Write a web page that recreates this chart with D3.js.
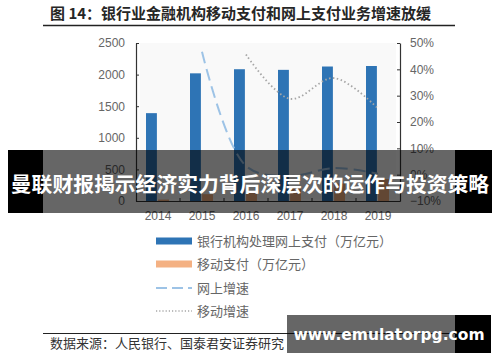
<!DOCTYPE html>
<html>
<head>
<meta http-equiv="Content-Type" content="text/html; charset=utf-8">
<script src="https://cdnjs.cloudflare.com/ajax/libs/d3/7.8.5/d3.min.js"></script>
<style>
  body { margin: 0; background: #fff; }
  svg text { font-family: "Noto Sans CJK SC", "Liberation Sans", sans-serif; }
</style>
</head>
<body>
<div class="chart"></div>
<script type="text/javascript">

    // ------------------------------------------- DATA
    var years = ["2014", "2015", "2016", "2017", "2018", "2019"];
    var onlinePay = [1390, 2020, 2085, 2075, 2128, 2136];     // 万亿元
    var mobilePay = [23, 108, 158, 203, 277, 347];            // 万亿元
    var onlineGrowth = [null, 0.467, 0.033, -0.005, 0.025, 0.004];
    var mobileGrowth = [null, null, 0.456, 0.288, 0.367, 0.251];
    var leftTicks = [0, 500, 1000, 1500, 2000, 2500];
    var rightTicks = [-0.1, 0, 0.1, 0.2, 0.3, 0.4, 0.5];

    var seriesNames = ["银行机构处理网上支付（万亿元）", "移动支付（万亿元）", "网上增速", "移动增速"];
    var colors = ["#2e74b5", "#f4b183", "#9dc3e6", "#a6a6a6"];

    // ------------------------------------------- SVG
    var width = 500, height = 362;
    var svg = d3.select("div.chart").append("svg")
        .attr("width", width)
        .attr("height", height);

    // title
    svg.append("text")
        .attr("x", 50).attr("y", 19)
        .style("font-size", "15px").style("font-weight", "bold")
        .attr("fill", "#262626")
        .text("图 14：银行业金融机构移动支付和网上支付业务增速放缓");
    svg.append("line")
        .attr("x1", 43).attr("x2", 455).attr("y1", 25.5).attr("y2", 25.5)
        .attr("stroke", "#222").attr("stroke-width", 1.5);

    // ------------------------------------------- SCALES
    var plotL = 136, plotR = 400, plotT = 43, plotB = 201;

    var x = d3.scaleBand().domain(years).range([plotL, plotR]);
    var c = x.bandwidth() / 2;
    var x1 = d3.scaleBand().domain(["online", "mobile"])
        .range([c - 12, c + 11]).paddingInner(0.1);
    var yL = d3.scaleLinear().domain([0, 2500]).range([plotB, plotT]);
    var yR = d3.scaleLinear().domain([-0.1, 0.5]).range([plotB, plotT]);

    // plot background
    svg.append("rect")
        .attr("x", plotL + 4).attr("y", plotT).attr("width", plotR - plotL - 8).attr("height", plotB - plotT - 2)
        .attr("fill", "#f9f9f9");

    var plot = svg.append("g");

    // bars
    plot.selectAll("rect.online")
        .data(onlinePay)
        .enter().append("rect")
        .attr("class", "online")
        .attr("x", function(d, i){ return x(years[i]) + x1("online"); })
        .attr("width", x1.bandwidth())
        .attr("y", function(d){ return yL(d); })
        .attr("height", function(d){ return yL(0) - yL(d); })
        .attr("fill", colors[0]);

    plot.selectAll("rect.mobile")
        .data(mobilePay)
        .enter().append("rect")
        .attr("class", "mobile")
        .attr("x", function(d, i){ return x(years[i]) + x1("mobile"); })
        .attr("width", x1.bandwidth())
        .attr("y", function(d){ return yL(d); })
        .attr("height", function(d){ return yL(0) - yL(d); })
        .attr("fill", colors[1]);

    // lines
    var line = d3.line()
        .x(function(d){ return x(d.year) + c; })
        .y(function(d){ return yR(d.v); })
        .curve(d3.curveCatmullRom.alpha(0.5));

    function pts(arr){
        return arr.map(function(v, i){ return {year: years[i], v: v}; })
                  .filter(function(d){ return d.v !== null; });
    }

    plot.append("path")
        .datum(pts(onlineGrowth))
        .attr("d", line)
        .attr("fill", "none")
        .attr("stroke", colors[2])
        .attr("stroke-width", 2)
        .attr("stroke-dasharray", "12,6");

    plot.append("path")
        .datum(pts(mobileGrowth))
        .attr("d", line)
        .attr("fill", "none")
        .attr("stroke", colors[3])
        .attr("stroke-width", 1.8)
        .attr("stroke-dasharray", "1.5,2.5");

    // ------------------------------------------- AXES
    var axisL = svg.append("g")
        .attr("transform", "translate(" + plotL + ",0)")
        .call(d3.axisLeft(yL).tickValues(leftTicks).tickSizeInner(-3).tickSizeOuter(0).tickPadding(11)
              .tickFormat(d3.format("d")));
    var axisR = svg.append("g")
        .attr("transform", "translate(" + plotR + ",0)")
        .call(d3.axisRight(yR).tickValues(rightTicks).tickSizeInner(-3).tickSizeOuter(0).tickPadding(10)
              .tickFormat(d3.format(".0%")));
    var axisB = svg.append("g")
        .attr("transform", "translate(0," + plotB + ")")
        .call(d3.axisBottom(x).tickSize(0).tickPadding(10));

    // inward ticks on band boundaries
    svg.append("g").selectAll("line")
        .data(years.slice(1))
        .enter().append("line")
        .attr("x1", function(d){ return x(d); })
        .attr("x2", function(d){ return x(d); })
        .attr("y1", plotB).attr("y2", plotB - 3)
        .attr("stroke", "#333");

    [axisL, axisR, axisB].forEach(function(a){
        a.select(".domain").attr("stroke", "#333").attr("stroke-width", 1.2);
        a.selectAll(".tick line").attr("stroke", "#333");
        a.selectAll("text")
            .style("font-family", "Liberation Sans, sans-serif")
            .style("font-size", "12px")
            .attr("fill", "#666");
    });

    // ------------------------------------------- LEGEND
    var legend = svg.append("g");
    var ly = [241, 264, 288, 311];
    seriesNames.forEach(function(name, i){
        if (i < 2) {
            legend.append("rect")
                .attr("x", 156).attr("y", ly[i] - 3.5).attr("width", 36).attr("height", 7)
                .attr("fill", colors[i]);
        } else {
            legend.append("line")
                .attr("x1", 156).attr("x2", 192).attr("y1", ly[i]).attr("y2", ly[i])
                .attr("stroke", colors[i])
                .attr("stroke-width", i == 2 ? 1.8 : 1.3)
                .attr("stroke-dasharray", i == 2 ? "11,5" : "1.2,2");
        }
        legend.append("text")
            .attr("x", 197).attr("y", ly[i]).attr("dy", "0.35em")
            .style("font-size", "13px")
            .attr("fill", "#666")
            .text(name);
    });

    // ------------------------------------------- SOURCE
    svg.append("line")
        .attr("x1", 43).attr("x2", 455).attr("y1", 333.5).attr("y2", 333.5)
        .attr("stroke", "#222").attr("stroke-width", 1.2);
    svg.append("text")
        .attr("x", 50).attr("y", 343).attr("dy", "0.35em")
        .style("font-size", "13px")
        .attr("fill", "#333")
        .text("数据来源：人民银行、国泰君安证券研究");

    // ------------------------------------------- OVERLAYS
    // black outside the picture, translucent over it
    function overlay(x0, x2, y0, h){
        if (x0 < 43) svg.append("rect").attr("x", x0).attr("y", y0).attr("width", 43 - x0).attr("height", h).attr("fill", "#000");
        svg.append("rect").attr("x", Math.max(x0, 43)).attr("y", y0).attr("width", Math.min(x2, 455) - Math.max(x0, 43)).attr("height", h)
            .attr("fill", "#000").attr("fill-opacity", 0.6);
        svg.append("rect").attr("x", 455).attr("y", y0).attr("width", x2 - 455).attr("height", h).attr("fill", "#000");
    }

    overlay(8, 492, 150, 63);
    svg.append("text")
        .attr("x", 250).attr("y", 185).attr("dy", "0.35em")
        .attr("text-anchor", "middle")
        .style("font-size", "20.8px").style("font-weight", "bold")
        .attr("fill", "#fff")
        .text("曼联财报揭示经济实力背后深层次的运作与投资策略");

    overlay(287, 491, 315, 38);
    svg.append("text")
        .attr("x", 389).attr("y", 335).attr("dy", "0.35em")
        .attr("text-anchor", "middle")
        .style("font-family", "DejaVu Sans, sans-serif")
        .style("font-size", "15.5px").style("font-weight", "bold")
        .attr("fill", "#fff")
        .text("www.emulatorpg.com");

</script>
</body>
</html>
